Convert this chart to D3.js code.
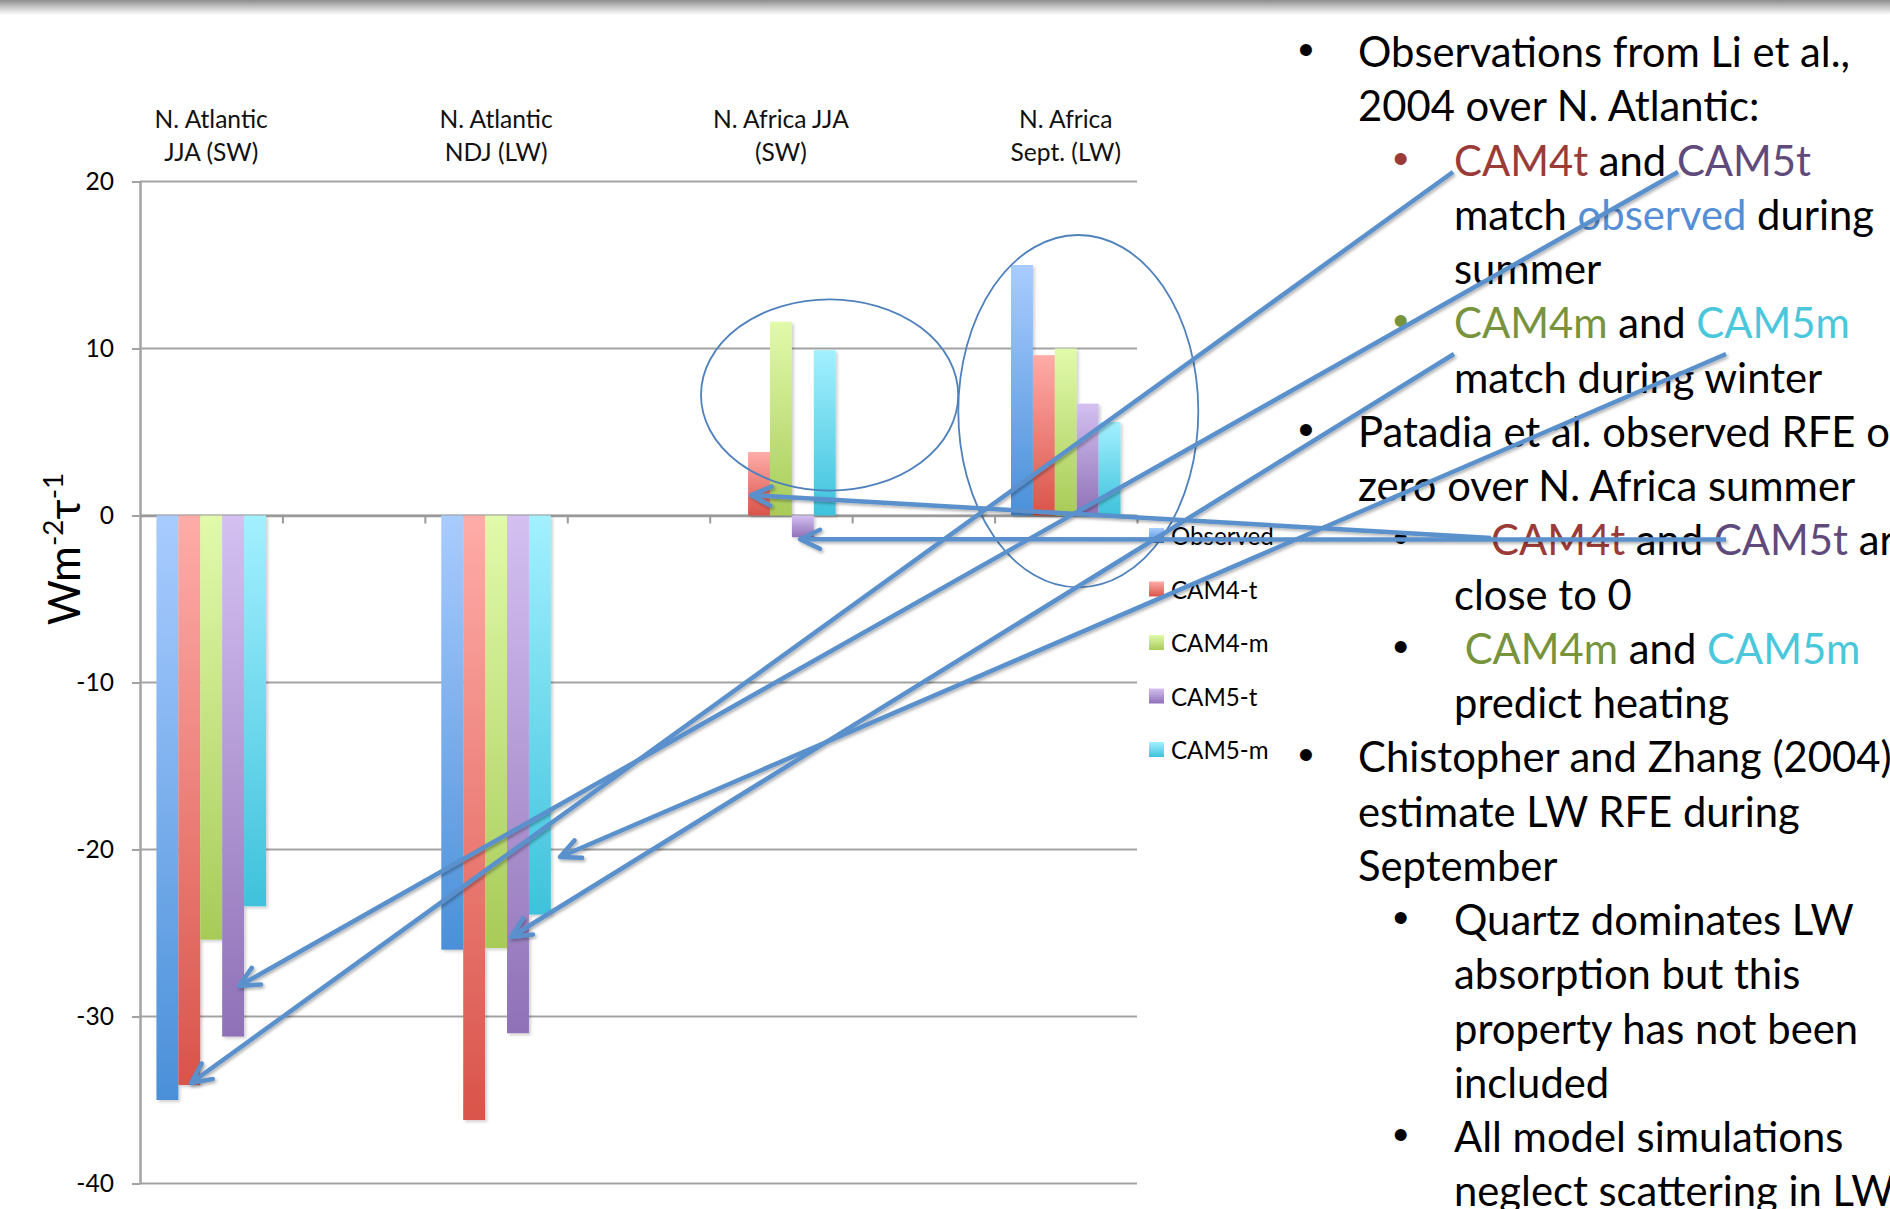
<!DOCTYPE html>
<html>
<head>
<meta charset="utf-8">
<script src="https://cdn.jsdelivr.net/npm/d3@7"></script>
<style>
  html, body { margin: 0; padding: 0; background: #fff; }
  svg { display: block; }
  text { font-family: Lato, "Noto Sans", sans-serif; white-space: pre; }
</style>
</head>
<body>
<svg id="chart" width="1890" height="1209"></svg>
<script>
// ---- chart data ----
const categories = [
  ["N. Atlantic", "JJA (SW)"], [],
  ["N. Atlantic", "NDJ (LW)"], [],
  ["N. Africa JJA", "(SW)"], [],
  ["N. Africa", "Sept. (LW)"]
];
const seriesNames = ["Observed", "CAM4-t", "CAM4-m", "CAM5-t", "CAM5-m"];
const observed = [-35.0, null, -26.0, null, 0.0, null, 15.0];
const cam4t    = [-34.1, null, -36.2, null, 3.8, null, 9.6];
const cam4m    = [-25.4, null, -25.9, null, 11.6, null, 10.0];
const cam5t    = [-31.2, null, -31.0, null, -1.3, null, 6.7];
const cam5m    = [-23.4, null, -23.9, null, 9.9, null, 5.6];
const yTicks   = [-40, -30, -20, -10, 0, 10, 20];
const seriesValues = [observed, cam4t, cam4m, cam5t, cam5m];

// bar fills: light at the top, deeper at the bottom
const seriesColors = [
  ["#A9CCFF", "#4A90D9"],
  ["#FFACA8", "#D9544A"],
  ["#E1FAAB", "#A8CB58"],
  ["#D4C0F1", "#8F71B7"],
  ["#A3F0FF", "#3FC2DC"]
];

// ---- notes beside the chart ----
const ink = {
  k: "#000000", red: "#9B3B38", purple: "#604A7B", blue: "#558ED5",
  green: "#77933C", cyan: "#4AC7DA"
};
// level, bullet colour (null = no bullet), text runs [text, colour]
const notes = [
  [1, "k",   [["Observations from Li et al.,", "k"]]],
  [1, null,  [["2004 over N. Atlantic:", "k"]]],
  [2, "red", [["CAM4t", "red"], [" and ", "k"], ["CAM5t", "purple"]]],
  [2, null,  [["match ", "k"], ["observed", "blue"], [" during", "k"]]],
  [2, null,  [["summer", "k"]]],
  [2, "green", [["CAM4m", "green"], [" and ", "k"], ["CAM5m", "cyan"]]],
  [2, null,  [["match during winter", "k"]]],
  [1, "k",   [["Patadia et al. observed RFE of", "k"]]],
  [1, null,  [["zero over N. Africa summer", "k"]]],
  [2, "k",   [["CAM4t", "red"], [" and ", "k"], ["CAM5t", "purple"], [" are", "k"]]],
  [2, null,  [["close to 0", "k"]]],
  [2, "k",   [[" CAM4m", "green"], [" and ", "k"], ["CAM5m", "cyan"]]],
  [2, null,  [["predict heating", "k"]]],
  [1, "k",   [["Chistopher and Zhang (2004)", "k"]]],
  [1, null,  [["estimate LW RFE during", "k"]]],
  [1, null,  [["September", "k"]]],
  [2, "k",   [["Quartz dominates LW", "k"]]],
  [2, null,  [["absorption but this", "k"]]],
  [2, null,  [["property has not been", "k"]]],
  [2, null,  [["included", "k"]]],
  [2, "k",   [["All model simulations", "k"]]],
  [2, null,  [["neglect scattering in LW", "k"]]]
];

const svg = d3.select("#chart");
const defs = svg.append("defs");

// font scale: size the note text so its first line spans the slide column
const probe = svg.append("text").style("font-size", "100px").text("Observations from Li et al.,");
const probeW = probe.node().getComputedTextLength();
probe.remove();
const noteSize = 492 / (probeW / 100);
const q = noteSize / 45;           // px per nominal point of the deck font
const fs = n => (n * q).toFixed(2) + "px";

// ---- gradients & filters ----
seriesColors.forEach((c, i) => {
  const g = defs.append("linearGradient").attr("id", "grad" + i)
    .attr("x1", 0).attr("y1", 0).attr("x2", 0).attr("y2", 1);
  g.append("stop").attr("offset", "0%").attr("stop-color", c[0]);
  g.append("stop").attr("offset", "100%").attr("stop-color", c[1]);
});
const topBand = defs.append("linearGradient").attr("id", "topband")
  .attr("x1", 0).attr("y1", 0).attr("x2", 0).attr("y2", 1);
topBand.append("stop").attr("offset", "0%").attr("stop-color", "#8c8c8c");
topBand.append("stop").attr("offset", "45%").attr("stop-color", "#c4c4c4");
topBand.append("stop").attr("offset", "100%").attr("stop-color", "#ffffff");

const barShadow = defs.append("filter").attr("id", "barShadow")
  .attr("x", "-20%").attr("y", "-5%").attr("width", "160%").attr("height", "115%");
barShadow.append("feDropShadow").attr("dx", 2).attr("dy", 2).attr("stdDeviation", 1.5)
  .attr("flood-color", "#000").attr("flood-opacity", 0.18);

const lineShadow = defs.append("filter").attr("id", "lineShadow")
  .attr("x", "-10%").attr("y", "-10%").attr("width", "120%").attr("height", "120%")
  .attr("filterUnits", "userSpaceOnUse");
lineShadow.append("feDropShadow").attr("dx", 1.5).attr("dy", 2).attr("stdDeviation", 1.5)
  .attr("flood-color", "#000").attr("flood-opacity", 0.3);

const arrowColor = "#5A90CC";
defs.append("marker").attr("id", "head")
  .attr("markerUnits", "userSpaceOnUse")
  .attr("viewBox", "-26 -16 32 32")
  .attr("markerWidth", 32).attr("markerHeight", 32)
  .attr("refX", 0).attr("refY", 0).attr("orient", "auto")
  .append("path").attr("d", "M-20,-9.5 L0,0 L-20,9.5")
  .attr("fill", "none").attr("stroke", arrowColor).attr("stroke-width", 4.5)
  .attr("stroke-linecap", "round").attr("stroke-linejoin", "round");

// slide header shading
svg.append("rect").attr("x", 0).attr("y", 0).attr("width", 1890).attr("height", 15)
  .attr("fill", "url(#topband)");

// ---- scales ----
const plot = { left: 140, right: 1137, top: 181.5, bottom: 1183.5 };
const x0 = d3.scaleBand().domain(d3.range(categories.length))
  .range([plot.left, plot.right]).paddingInner(0).paddingOuter(0);
const x1 = d3.scaleBand().domain(seriesNames)
  .range([0, x0.bandwidth()]).paddingInner(0).paddingOuter(0.75);
const y = d3.scaleLinear().domain([-40, 20]).range([plot.bottom, plot.top]);
const xEdge = d3.scaleLinear().domain([0, categories.length]).range([plot.left, plot.right]);

const chart = svg.append("g");

// gridlines
chart.append("g").selectAll("line").data(yTicks).join("line")
  .attr("x1", plot.left).attr("x2", plot.right)
  .attr("y1", d => y(d)).attr("y2", d => y(d))
  .attr("stroke", "#a3a3a3").attr("stroke-width", 2);

// value axis
const yAxis = chart.append("g").attr("transform", `translate(${plot.left},0)`)
  .call(d3.axisLeft(y).tickValues(yTicks).tickSize(8).tickSizeOuter(0).tickPadding(18)
    .tickFormat(d => String(d)));
yAxis.select(".domain").attr("stroke", "#a3a3a3").attr("stroke-width", 2.5);
yAxis.selectAll(".tick line").attr("stroke", "#a3a3a3").attr("stroke-width", 2);
yAxis.selectAll(".tick text").attr("fill", "#000")
  .style("font-family", "Lato, sans-serif").style("font-size", fs(26.5)).attr("dy", "0.34em");

// category boundary ticks under the zero line
const xAxis = chart.append("g").attr("transform", `translate(0,${y(0)})`)
  .call(d3.axisBottom(xEdge).tickValues(d3.range(1, categories.length + 1))
    .tickSize(8).tickSizeOuter(0).tickFormat(""));
xAxis.select(".domain").attr("stroke", "#9a9a9a").attr("stroke-width", 2.5);
xAxis.selectAll(".tick line").attr("stroke", "#9a9a9a").attr("stroke-width", 2);

// bars
const barData = [];
seriesNames.forEach((name, s) => {
  seriesValues[s].forEach((v, i) => {
    if (v !== null) barData.push({ name, s, i, v });
  });
});
chart.append("g").attr("filter", "url(#barShadow)")
  .selectAll("rect").data(barData).join("rect")
  .attr("x", d => x0(d.i) + x1(d.name))
  .attr("width", x1.bandwidth())
  .attr("y", d => y(Math.max(0, d.v)))
  .attr("height", d => Math.abs(y(d.v) - y(0)))
  .attr("fill", d => `url(#grad${d.s})`);

// category labels above the plot
const catG = chart.append("g");
categories.forEach((lines, i) => {
  if (!lines.length) return;
  const t = catG.append("text")
    .attr("x", x0(i) + x0.bandwidth() / 2).attr("y", 128)
    .attr("text-anchor", "middle").attr("fill", "#111")
    .style("font-size", fs(26.5));
  lines.forEach((ln, k) => {
    t.append("tspan").attr("x", x0(i) + x0.bandwidth() / 2)
      .attr("y", 128 + k * 33).text(ln);
  });
});

// value axis title
const title = chart.append("text")
  .attr("transform", "translate(80,549) rotate(-90)")
  .attr("text-anchor", "middle").attr("fill", "#000")
  .style("font-size", fs(47));
title.append("tspan").text("Wm");
title.append("tspan").attr("dy", -17).style("font-size", fs(30)).text("-2");
title.append("tspan").attr("dy", 17).text("τ");
title.append("tspan").attr("dy", -17).style("font-size", fs(30)).text("-1");

// legend
const legend = chart.append("g").attr("transform", "translate(1149,528)");
seriesNames.forEach((name, s) => {
  const row = legend.append("g").attr("transform", `translate(0,${s * 53.5})`);
  row.append("rect").attr("width", 15).attr("height", 15).attr("fill", `url(#grad${s})`);
  row.append("text").attr("x", 22).attr("y", 17).attr("fill", "#000")
    .style("font-size", fs(26)).text(name);
});

// highlight rings round the two N. Africa groups
const rings = svg.append("g").attr("fill", "none").attr("stroke", "#4F81BD").attr("stroke-width", 1.8);
rings.append("ellipse").attr("cx", 829.6).attr("cy", 395).attr("rx", 128.6).attr("ry", 95.7);
rings.append("ellipse").attr("cx", 1078.3).attr("cy", 411.2).attr("rx", 120).attr("ry", 176.2);

// ---- notes text ----
const noteG = svg.append("g");
const lineStep = 54.25, firstBase = 67;
const bulletX = { 1: 1306, 2: 1400.6 }, textX = { 1: 1358, 2: 1454 };
const textShift = { 9: 37 };
notes.forEach(([lvl, bullet, runs], idx) => {
  const base = firstBase + idx * lineStep;
  if (bullet) {
    noteG.append("text").attr("x", bulletX[lvl]).attr("y", base - 2)
      .attr("text-anchor", "middle").attr("fill", ink[bullet])
      .style("font-family", "'Liberation Sans', Arial, sans-serif").style("font-size", "44px")
      .text("•");
  }
  const t = noteG.append("text").attr("x", textX[lvl] + (textShift[idx] || 0)).attr("y", base)
    .style("font-size", noteSize.toFixed(2) + "px");
  runs.forEach(([txt, col]) => t.append("tspan").attr("fill", ink[col]).text(txt));
});

// ---- call-out arrows from the notes to the bars ----
const arrows = [
  [[1453, 172], [191, 1083]],
  [[1678, 172], [239, 986]],
  [[1454, 354], [511, 937]],
  [[1726, 354], [560, 857]],
  [[1491, 538], [751, 495]],
  [[1726, 539.5], [800, 539.3]]
];
svg.append("g").attr("filter", "url(#lineShadow)")
  .selectAll("line").data(arrows).join("line")
  .attr("x1", d => d[0][0]).attr("y1", d => d[0][1])
  .attr("x2", d => d[1][0]).attr("y2", d => d[1][1])
  .attr("stroke", arrowColor).attr("stroke-width", 4.5)
  .attr("marker-end", "url(#head)");
</script>
</body>
</html>
